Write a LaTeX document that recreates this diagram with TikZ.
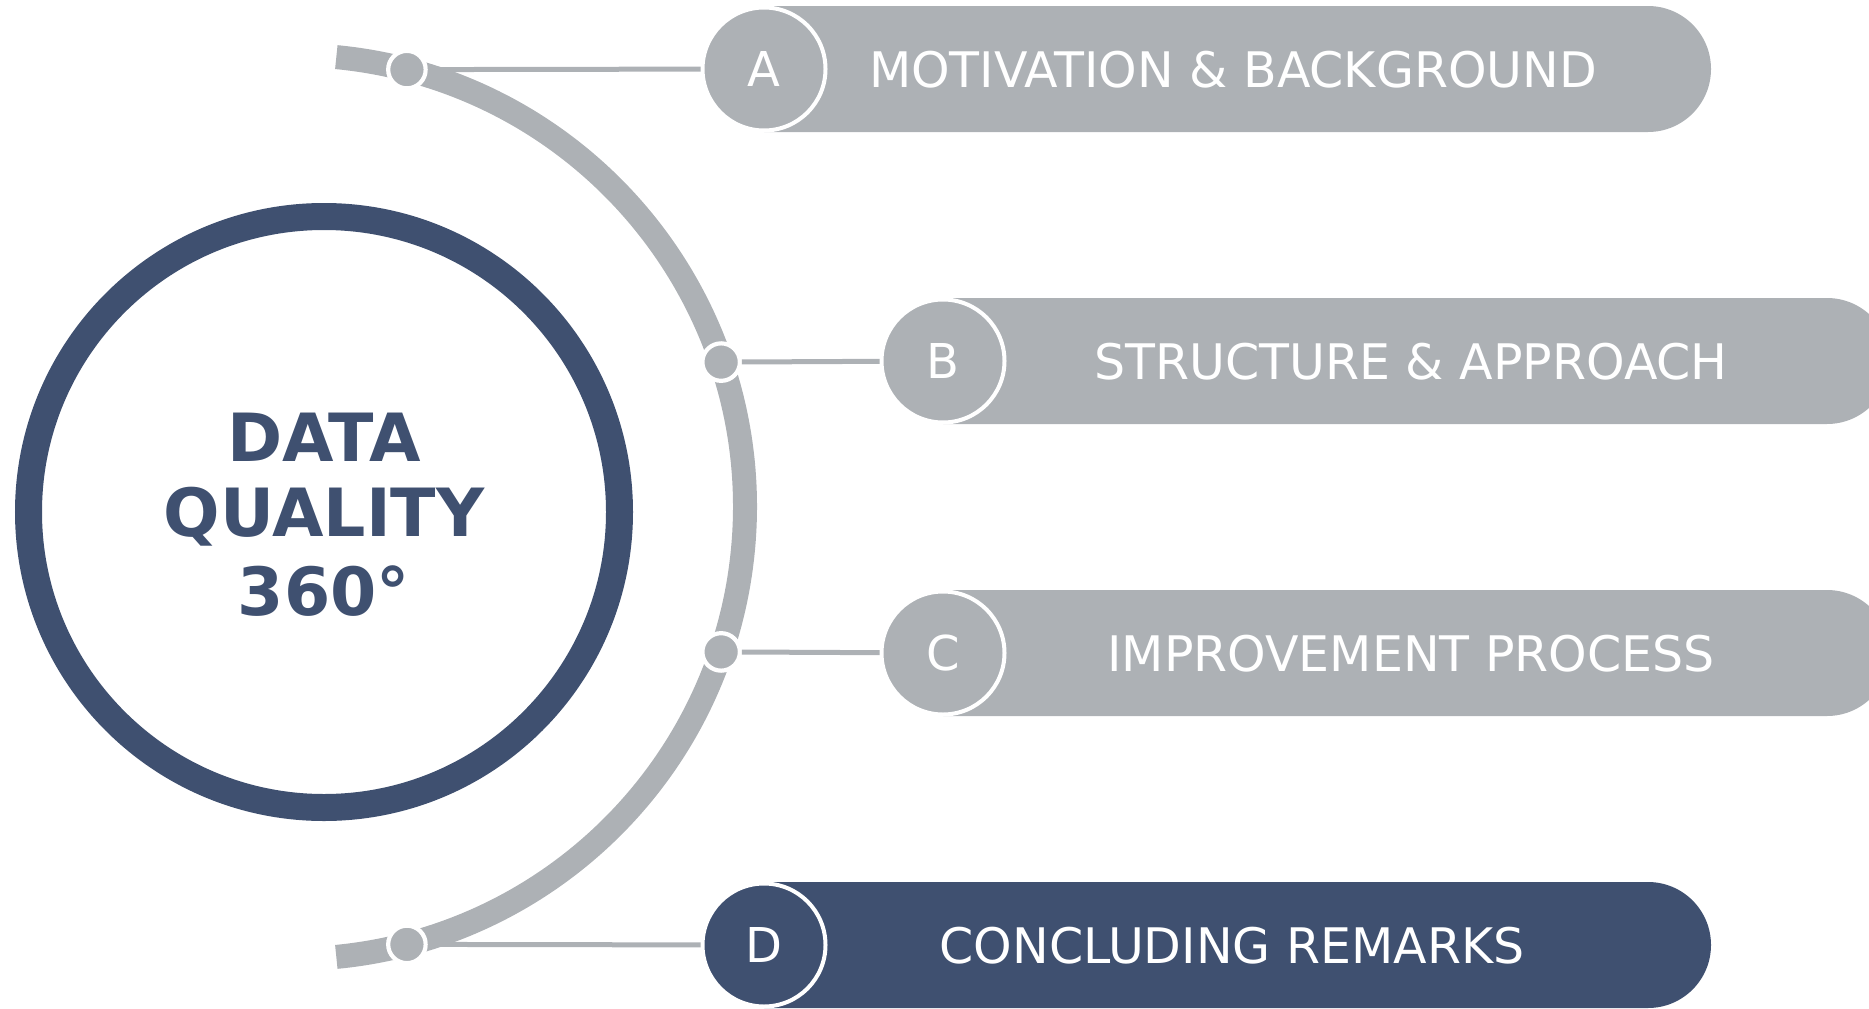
\documentclass[tikz,border=0pt]{standalone}
\usepackage{fontspec}
\setmainfont{DejaVu Sans}
\usetikzlibrary{calc}
\definecolor{dqgray}{RGB}{173,177,181}
\definecolor{dqnavy}{RGB}{63,80,112}
\begin{document}
\begin{tikzpicture}[x=1pt,y=-1pt,
  hubring/.style={circle, draw=dqnavy, line width=27pt, minimum size=591pt, inner sep=0pt},
  hubtext/.style={text=dqnavy, font=\fontsize{66.5}{76}\selectfont\bfseries, inner sep=0pt},
  dotnode/.style={circle, fill=dqgray, draw=white, line width=4.2pt, minimum size=37.5pt, inner sep=0pt},
  letterc/.style={circle, draw=white, line width=4pt, minimum size=123pt, inner sep=0pt, text=white, font=\fontsize{48}{56}\selectfont},
  pilltext/.style={text=white, font=\fontsize{49}{56}\selectfont, inner sep=0pt},
  conn/.style={draw=dqgray, line width=5pt},
  garc/.style={draw=dqgray, line width=24pt}]
\useasboundingbox (0,0) rectangle (1869,1009);
% central ring
\node[hubring] (hub) at (324,512) {};
\node[hubtext, anchor=base] (t1) at (324,461) {DATA};
\node[hubtext, anchor=base] (t2) at (324,536.5) {QUALITY};
\node[hubtext, anchor=base] (t3) at (324,615) {360°};
% gray arc
\coordinate (ac) at (293,507);
\draw[garc] ($(ac)+(-84.5:452)$) arc[start angle=-84.5, end angle=84.5, radius=452];
% dots on arc
\node[dotnode] (dA) at ($(ac)+(-75.4:452)$) {};
\node[dotnode] (dB) at ($(ac)+(-18.7:452)$) {};
\node[dotnode] (dC) at ($(ac)+(18.7:452)$) {};
\node[dotnode] (dD) at ($(ac)+(75.4:452)$) {};
% pills
\fill[dqgray] (764,6) -- (1648,6) arc[start angle=-90, end angle=90, radius=63] -- (764,132) -- cycle;
\fill[dqgray] (943,298) -- (1827,298) arc[start angle=-90, end angle=90, radius=63] -- (943,424) -- cycle;
\fill[dqgray] (943,590) -- (1827,590) arc[start angle=-90, end angle=90, radius=63] -- (943,716) -- cycle;
\fill[dqnavy] (764,882) -- (1648,882) arc[start angle=-90, end angle=90, radius=63] -- (764,1008) -- cycle;
% letter circles
\node[letterc, fill=dqgray] (cA) at (764,69) {A};
\node[letterc, fill=dqgray] (cB) at (943,361) {B};
\node[letterc, fill=dqgray] (cC) at (943,653) {C};
\node[letterc, fill=dqnavy] (cD) at (764,945) {D};
% pill texts
\node[pilltext, anchor=base] (pA) at (1233,87) {MOTIVATION \& BACKGROUND};
\node[pilltext, anchor=base] (pB) at (1411,379) {STRUCTURE \& APPROACH};
\node[pilltext, anchor=base] (pC) at (1411,671) {IMPROVEMENT PROCESS};
\node[pilltext, anchor=base] (pD) at (1232,963) {CONCLUDING REMARKS};
% connectors
\draw[conn] (dA) -- (cA);
\draw[conn] (dB) -- (cB);
\draw[conn] (dC) -- (cC);
\draw[conn] (dD) -- (cD);
\end{tikzpicture}
\end{document}
